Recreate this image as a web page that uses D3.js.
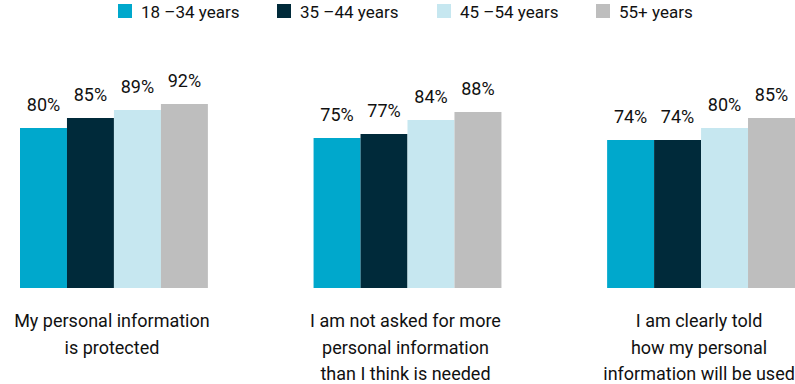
<!DOCTYPE html>
<html><head><meta charset="utf-8">
<script src="https://cdn.jsdelivr.net/npm/d3@7"></script>
<style>body{margin:0;background:#fff}svg{display:block;font-family:Roboto,"Noto Sans",sans-serif}</style>
</head><body><svg id="c" width="795" height="384"></svg>
<script>
const categories = [
  ["My personal information","is protected"],
  ["I am not asked for more","personal information","than I think is needed"],
  ["I am clearly told","how my personal","information will be used"]
];
const seriesNames = ["18 \u201334 years","35 \u201344 years","45 \u201354 years","55+ years"];
const colors = ["#00A8CC","#002A3A","#C6E7F0","#BEBEBE"];
const v1834 = [80,75,74];
const v3544 = [85,77,74];
const v4554 = [89,84,80];
const v55p  = [92,88,85];
const seriesValues = [v1834,v3544,v4554,v55p];

const svg = d3.select("#c");
const catIdx = categories.map((d,i)=>i);
const x0 = d3.scaleBand().domain(catIdx).range([20,795]).paddingInner(0.36).paddingOuter(0);
const x1 = d3.scaleBand().domain(d3.range(4)).range([0,x0.bandwidth()]);
const y = d3.scaleLinear().domain([0,100]).range([288,88]);

const g = svg.append("g");
catIdx.forEach(ci=>{
  const gg = g.append("g").attr("transform",`translate(${x0(ci)},0)`);
  seriesValues.forEach((vals,si)=>{
    gg.append("rect").attr("x",x1(si)).attr("y",y(vals[ci]))
      .attr("width",x1.bandwidth()).attr("height",y(0)-y(vals[ci]))
      .attr("fill",colors[si]);
    gg.append("text").attr("x",x1(si)+x1.bandwidth()/2).attr("y",y(vals[ci])-17)
      .attr("text-anchor","middle").attr("font-size",18).attr("fill","#111")
      .text(vals[ci]+"%");
  });
  const t = svg.append("text").attr("text-anchor","middle").attr("font-size",18).attr("fill","#111");
  categories[ci].forEach((line,li)=>{
    t.append("tspan").attr("x",x0(ci)+x0.bandwidth()/2 - 2).attr("y",327+li*26.5).text(line);
  });
});

const legX = [118,277,437,596];
seriesNames.forEach((n,i)=>{
  svg.append("rect").attr("x",legX[i]).attr("y",4).attr("width",14).attr("height",14).attr("fill",colors[i]);
  svg.append("text").attr("x",legX[i]+23).attr("y",17.5).attr("font-size",17).attr("fill","#111").text(n);
});
</script></body></html>
